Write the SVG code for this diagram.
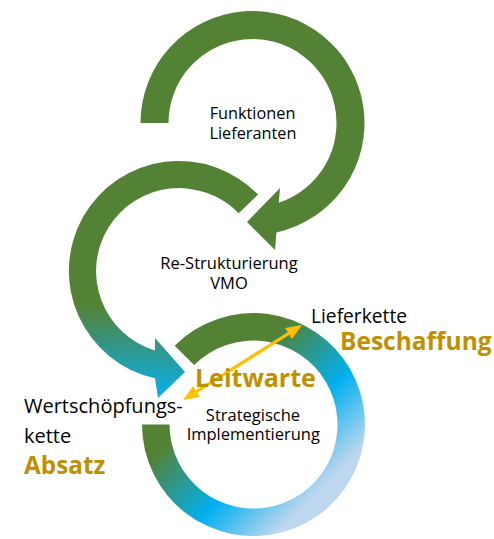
<svg xmlns="http://www.w3.org/2000/svg" width="494" height="539" viewBox="0 0 494 539">
  <style>
    .lbl { font-family: "Open Sans", "Liberation Sans", sans-serif; fill: #000000; }
    .gold { font-family: "Open Sans", "Liberation Sans", sans-serif; font-weight: bold; fill: #BF9000; }
    .c { text-anchor: middle; }
  </style>
  <defs>
    <linearGradient id="gMid" gradientUnits="userSpaceOnUse" x1="0" y1="305" x2="0" y2="395">
      <stop offset="0" stop-color="#548235"/>
      <stop offset="1" stop-color="#0aaee8"/>
    </linearGradient>
    <linearGradient id="gRing" gradientUnits="userSpaceOnUse" x1="305" y1="305" x2="405" y2="405">
      <stop offset="0" stop-color="#548235"/>
      <stop offset="0.55" stop-color="#00B0F0"/>
      <stop offset="1" stop-color="#BDD7EE"/>
    </linearGradient>
    <marker id="ah" markerUnits="userSpaceOnUse" markerWidth="16" markerHeight="13" viewBox="0 0 16 13" refX="1" refY="6.5" orient="auto-start-reverse">
      <path d="M0,0 L16,6.5 L0,13 Z" fill="#FFC000"/>
    </marker>
  </defs>

  <g id="node-funktionen">
    <path d="M140.5 123 A112 112 0 1 1 276.4 232.4 L275 250 L247 222 L280 188 L278.8 202.8 A84 84 0 1 0 168.5 123 Z" fill="#548235"/>
    <text class="lbl c" x="252.5" y="119" font-size="16.3">Funktionen</text>
    <text class="lbl c" x="253" y="139.3" font-size="16.3">Lieferanten</text>
  </g>

  <g id="node-restrukturierung">
    <path d="M258.1 194.6 A110 110 0 1 0 155 378.3 L158 398 L185 372 L155 338 L155 350.5 A83 83 0 1 1 238.7 213.3 Z" fill="url(#gMid)"/>
    <text class="lbl c" x="229" y="269" font-size="16.5">Re-Strukturierung</text>
    <text class="lbl c" x="229" y="289.3" font-size="16.5">VMO</text>
  </g>

  <g id="node-strategische">
    <path d="M174.7 345.7 A111.5 111.5 0 1 1 142 424.5 L169.5 424.5 A84 84 0 1 0 194.1 365.1 Z" fill="url(#gRing)"/>
    <text class="lbl c" x="253" y="420.7" font-size="16.5">Strategische</text>
    <text class="lbl c" x="253.3" y="440" font-size="16.5">Implementierung</text>
  </g>

  <g id="node-lieferkette">
    <text class="lbl" x="311" y="322.7" font-size="19.2">Lieferkette</text>
    <text class="gold" x="340" y="350" font-size="24.5">Beschaffung</text>
  </g>

  <g id="node-wertschoepfung">
    <text class="lbl" x="24" y="413.3" font-size="20">Wertschöpfungs-</text>
    <text class="lbl" x="24" y="443.3" font-size="20">kette</text>
    <text class="gold" x="24" y="474" font-size="24.3">Absatz</text>
  </g>

  <g id="connectors">
    <line x1="195.7" y1="392" x2="289.3" y2="333" stroke="#FFC000" stroke-width="3.2" marker-start="url(#ah)" marker-end="url(#ah)"/>
  </g>

  <g id="node-leitwarte">
    <text class="gold" x="195" y="387.3" font-size="25">Leitwarte</text>
  </g>
</svg>
